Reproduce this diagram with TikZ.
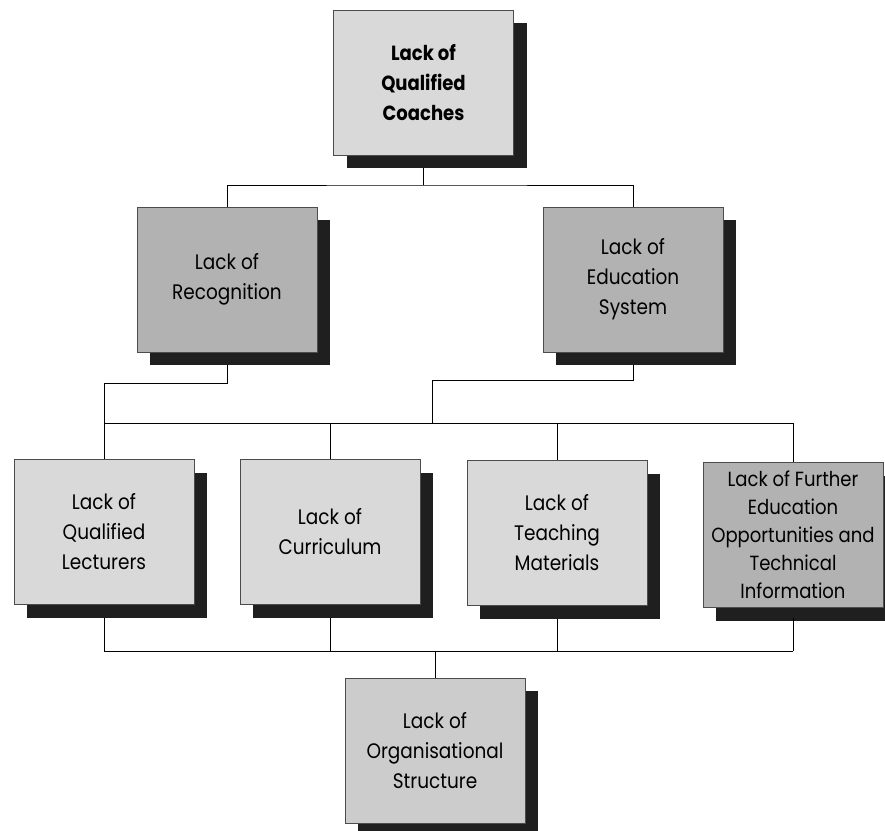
\documentclass[tikz,border=0pt]{standalone}
\usepackage{fontspec}
\setmainfont[FakeStretch=0.88]{Poppins}
\usetikzlibrary{shadows}
\begin{document}
\begin{tikzpicture}[x=1pt,y=-1pt,
  box/.style={draw=black!70, line width=0.8pt, minimum width=180pt, minimum height=145pt,
    align=center, inner sep=0pt, font=\fontsize{21}{30}\selectfont,
    drop shadow={shadow xshift=13pt, shadow yshift=-13pt, fill=black!88, opacity=1}},
  light/.style={box, fill=black!15},
  dark/.style={box, fill=black!30},
  conn/.style={line width=1pt, black}]
\useasboundingbox[fill=white] (0,0) rectangle (885,830);

\node[light, font=\fontsize{20.5}{30}\selectfont\bfseries] (top) at (423.5,82.5) {Lack of\\Qualified\\Coaches};
\node[dark] (rec) at (227,279.5) {Lack of\\Recognition};
\node[dark] (edu) at (633,279.5) {Lack of\\Education\\System};
\node[light] (lec) at (104,532) {Lack of\\Qualified\\Lecturers};
\node[light] (cur) at (330,532) {Lack of\\Curriculum};
\node[light] (tea) at (557,533) {Lack of\\Teaching\\Materials};
\node[dark, font=\fontsize{20.5}{28}\selectfont] (fur) at (793,535) {Lack of Further\\Education\\Opportunities and\\Technical\\Information};
\node[light, fill=black!20] (org) at (435,750.5) {Lack of\\Organisational\\Structure};

\coordinate (tj) at (423.5,185);
\coordinate (bus1) at (432,423);
\coordinate (bus2) at (435,651);

% top level
\draw[conn] (top.south) ++(0,13) -- (tj);
\draw[conn] (rec.north) |- (tj) -| (edu.north);
% second level to bus
\draw[conn] (rec.south) ++(0,13) -- ++(0,18) -| (lec.north);
\draw[conn] (edu.south) ++(0,13) -- ++(0,15) -| (bus1);
\draw[conn] (lec.north |- bus1) -- (fur.north |- bus1);
\draw[conn] (cur.north) -- (cur.north |- bus1);
\draw[conn] (tea.north) -- (tea.north |- bus1);
\draw[conn] (fur.north) -- (fur.north |- bus1);
% bottom bus
\draw[conn] (lec.south) ++(0,13) -- (lec.south |- bus2);
\draw[conn] (cur.south) ++(0,13) -- (cur.south |- bus2);
\draw[conn] (tea.south) ++(0,13) -- (tea.south |- bus2);
\draw[conn] (fur.south) ++(0,10) -- (fur.south |- bus2);
\draw[conn] (lec.south |- bus2) -- (fur.south |- bus2);
\draw[conn] (org.north) -- (bus2);
\end{tikzpicture}
\end{document}
